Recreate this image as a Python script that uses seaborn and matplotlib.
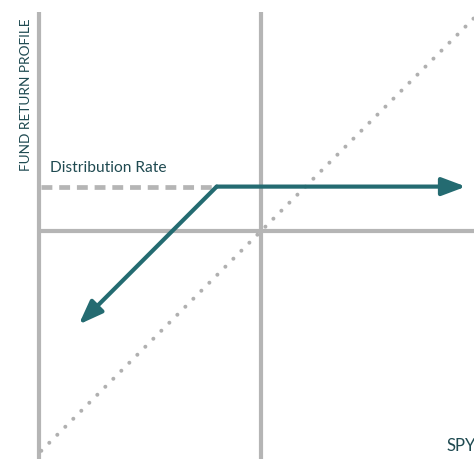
import matplotlib
matplotlib.use("Agg")
import matplotlib.pyplot as plt
import seaborn as sns
import numpy as np
import pandas as pd

# payoff diagram values (x = SPY return, y = fund return)
spy_x = [-9.9, 9.6]
spy_y = [-9.9, 9.6]
fund_x = [-8.05, -2.0, 9.0]
fund_y = [-4.05, 2.0, 2.0]
distribution_rate = 2.0
axis_left = -10.0
axis_top = 9.85

TEAL = "#246b71"
GRAY = "#b5b5b5"
TEXT = "#1f4a51"

sns.set_theme(style="white")
plt.rcParams['font.family'] = ['Lato', 'DejaVu Sans']

fig = plt.figure(figsize=(4.74, 4.60), dpi=100)
ax = fig.add_axes([0, 0, 1, 1])
ax.set_xlim(-11.76, 9.59)
ax.set_ylim(-10.27, 10.45)
ax.axis("off")

# axes lines
ax.plot([axis_left, axis_left], [-10.27, axis_top], color=GRAY, lw=3, solid_capstyle="butt")
ax.plot([0, 0], [-10.27, axis_top], color=GRAY, lw=3, solid_capstyle="butt")
ax.plot([axis_left, 9.59], [0, 0], color=GRAY, lw=3, solid_capstyle="butt")

# distribution rate dashed level
ax.plot([axis_left + 0.1, fund_x[1]], [distribution_rate, distribution_rate],
        color=GRAY, lw=3.4, linestyle=(0, (2.3, 1.45)), dash_capstyle="butt")

# SPY one-to-one dotted line
spy = pd.DataFrame({"x": spy_x, "y": spy_y})
sns.lineplot(data=spy, x="x", y="y", ax=ax, color="#b0b0b0", lw=2.9,
             linestyle=(0, (0.01, 2.8)), dash_capstyle="round")


# the arrow head of "-|>" stops a few pixels short of its point, push it out
def push_out(p_from, p_to, px=5):
    a = ax.transData.transform(p_from)
    b = ax.transData.transform(p_to)
    d = (b - a) / np.hypot(*(b - a)) * px
    return tuple(ax.transData.inverted().transform(b + d))


# fund return profile with arrow heads
kink = (fund_x[1], fund_y[1])
for i in (0, 2):
    tip = push_out(kink, (fund_x[i], fund_y[i]))
    ax.annotate("", xy=tip, xytext=kink,
                arrowprops=dict(arrowstyle="-|>,head_length=0.72,head_width=0.27",
                                mutation_scale=20, lw=3, color=TEAL,
                                shrinkA=0, shrinkB=0, capstyle="round"))

ax.text(-10.6, 9.6, "FUND RETURN PROFILE", rotation=90, ha="center", va="top",
        fontsize=9.8, color=TEXT)
ax.text(-9.5, 2.55, "Distribution Rate", ha="left", va="bottom",
        fontsize=11.2, color=TEXT)
ax.text(8.35, -10.0, "SPY", ha="left", va="bottom", fontsize=12, color=TEXT)

fig.savefig("out.png", dpi=100)
